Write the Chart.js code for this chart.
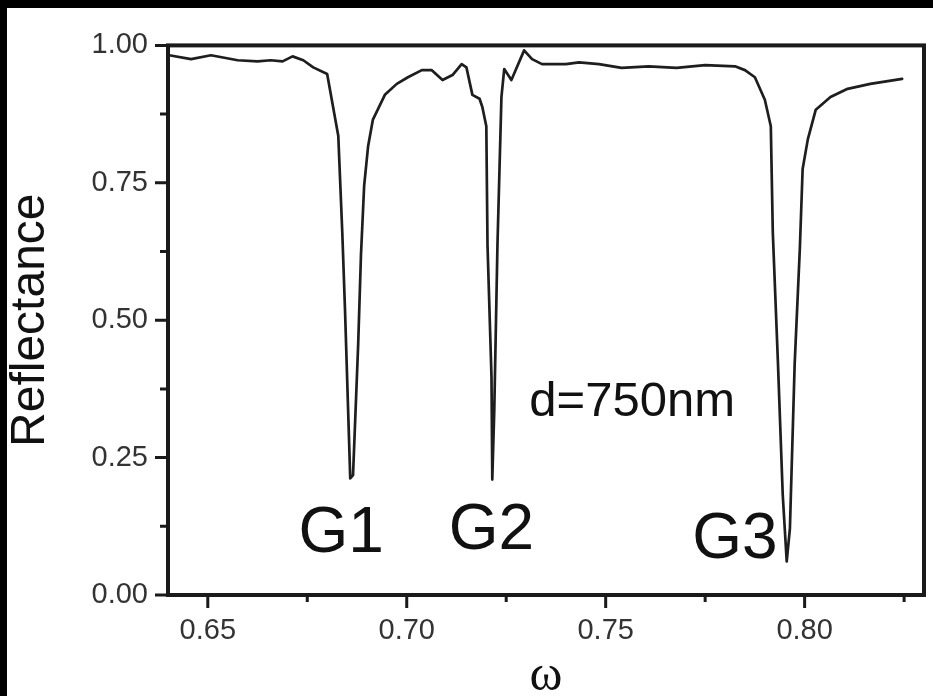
<!DOCTYPE html>
<html>
<head>
<meta charset="utf-8">
<script src="https://cdn.jsdelivr.net/npm/chart.js@4"></script>
<style>
  html, body { margin: 0; padding: 0; background: #fff; overflow: hidden; }
  .bar { position: fixed; background: #000; }
  #wrap { position: absolute; left: 7px; top: 8px; width: 926px; height: 688px; }
</style>
</head>
<body>
<div class="bar" style="left:0;top:0;right:0;height:8px"></div>
<div class="bar" style="left:0;top:0;bottom:0;width:7px"></div>
<div id="wrap"><canvas id="myChart"></canvas></div>
<script>
// frequency (omega) and reflectance
var omega = [0.6403, 0.6458, 0.6508, 0.6575, 0.6625, 0.6658, 0.6688, 0.6713, 0.6740, 0.6765,
  0.6800, 0.6828, 0.6838, 0.6845, 0.6858, 0.6865, 0.6878, 0.6885, 0.6893, 0.6903, 0.6915,
  0.6945, 0.6975, 0.7003, 0.7038, 0.7063, 0.7090, 0.7115, 0.7138, 0.7150, 0.7165,
  0.7183, 0.7190, 0.7200, 0.7203, 0.7213, 0.7215, 0.7220, 0.7228, 0.7238, 0.7245,
  0.7263, 0.7295, 0.7315, 0.7340, 0.7400, 0.7433, 0.7483, 0.7540, 0.7608, 0.7678,
  0.7750, 0.7825, 0.7850, 0.7875, 0.7900, 0.7915, 0.7920, 0.7933, 0.7945, 0.7955,
  0.7963, 0.7975, 0.7988, 0.7995, 0.8008, 0.8028, 0.8065, 0.8108, 0.8165, 0.8245];
var reflectance = [0.982, 0.975, 0.982, 0.973, 0.971, 0.973, 0.971, 0.980, 0.973, 0.960,
  0.948, 0.835, 0.660, 0.516, 0.212, 0.218, 0.457, 0.619, 0.745, 0.817, 0.865,
  0.910, 0.930, 0.942, 0.955, 0.955, 0.937, 0.946, 0.966, 0.960, 0.910,
  0.903, 0.888, 0.853, 0.637, 0.397, 0.210, 0.336, 0.637, 0.906, 0.957,
  0.937, 0.991, 0.975, 0.966, 0.966, 0.969, 0.966, 0.959, 0.962, 0.959,
  0.964, 0.962, 0.955, 0.942, 0.901, 0.853, 0.660, 0.421, 0.182, 0.061,
  0.121, 0.421, 0.631, 0.775, 0.829, 0.883, 0.906, 0.921, 0.930, 0.939];

var xTicks = [0.65, 0.70, 0.75, 0.80];
var xMinor = [0.675, 0.725, 0.775, 0.825];
var yTicks = [0, 0.25, 0.5, 0.75, 1];
var yMinor = [0.125, 0.375, 0.625, 0.875];

// text labels inside the plot, anchored in data units
var labelText = ['G1', 'G2', 'G3', 'd=750nm'];
var labelX = [0.6835, 0.7213, 0.7825, 0.7308];
var labelY = [0.079, 0.083, 0.067, 0.3255];

var points = omega.map(function (w, i) { return {x: w, y: reflectance[i]}; });

var frame = {
  id: 'frame',
  afterDraw: function (chart) {
    var c = chart.ctx, a = chart.chartArea;
    var xs = chart.scales.x, ys = chart.scales.y;
    c.save();
    c.strokeStyle = '#1a1a1a';
    c.lineWidth = 4;
    c.strokeRect(a.left, a.top, a.right - a.left, a.bottom - a.top);
    c.lineWidth = 3;
    c.beginPath();
    xTicks.forEach(function (v) { var p = xs.getPixelForValue(v); c.moveTo(p, a.bottom); c.lineTo(p, a.bottom + 13); });
    xMinor.forEach(function (v) { var p = xs.getPixelForValue(v); c.moveTo(p, a.bottom); c.lineTo(p, a.bottom + 7); });
    yTicks.forEach(function (v) { var p = ys.getPixelForValue(v); c.moveTo(a.left, p); c.lineTo(a.left - 13, p); });
    yMinor.forEach(function (v) { var p = ys.getPixelForValue(v); c.moveTo(a.left, p); c.lineTo(a.left - 8, p); });
    c.stroke();
    c.fillStyle = '#111';
    c.textBaseline = 'alphabetic';
    labelText.forEach(function (t, i) {
      var big = t.charAt(0) === 'G';
      c.font = (big ? 64 : 49) + 'px "Liberation Sans", Arial, sans-serif';
      c.textAlign = big ? 'center' : 'left';
      c.fillText(t, xs.getPixelForValue(labelX[i]), ys.getPixelForValue(labelY[i]));
    });
    c.restore();
  }
};

var ctx = document.getElementById('myChart').getContext('2d');
var myChart = new Chart(ctx, {
  type: 'scatter',
  data: {
    datasets: [{
      data: points,
      showLine: true,
      borderColor: '#1e1e1e',
      borderWidth: 2.7,
      borderJoinStyle: 'round',
      borderCapStyle: 'round',
      pointRadius: 0,
      tension: 0
    }]
  },
  options: {
    responsive: true,
    maintainAspectRatio: false,
    animation: false,
    layout: { padding: { top: 31, right: 9, bottom: 0, left: 0 } },
    plugins: { legend: { display: false }, tooltip: { enabled: false } },
    scales: {
      x: {
        type: 'linear',
        min: 0.64,
        max: 0.83,
        afterBuildTicks: function (s) { s.ticks = xTicks.map(function (v) { return {value: v}; }); },
        afterFit: function (s) { s.height = 101; },
        grid: { display: false, drawTicks: false },
        border: { display: false },
        ticks: {
          padding: 19,
          color: '#333',
          font: { family: '"Liberation Sans", Arial, sans-serif', size: 29 },
          callback: function (v) { return v.toFixed(2); }
        },
        title: {
          display: true,
          text: 'ω',
          color: '#111',
          padding: 0,
          font: { family: '"Liberation Serif", "DejaVu Serif", serif', size: 50, lineHeight: 0.75 }
        }
      },
      y: {
        type: 'linear',
        min: 0,
        max: 1,
        afterBuildTicks: function (s) { s.ticks = yTicks.map(function (v) { return {value: v}; }); },
        afterFit: function (s) { s.width = 161; },
        grid: { display: false, drawTicks: false },
        border: { display: false },
        ticks: {
          padding: 20,
          color: '#333',
          font: { family: '"Liberation Sans", Arial, sans-serif', size: 29 },
          callback: function (v) { return v.toFixed(2); }
        },
        title: {
          display: true,
          text: 'Reflectance',
          color: '#111',
          padding: 0,
          font: { family: '"Liberation Sans", Arial, sans-serif', size: 48, lineHeight: 1 }
        }
      }
    }
  },
  plugins: [frame]
});
</script>
</body>
</html>
